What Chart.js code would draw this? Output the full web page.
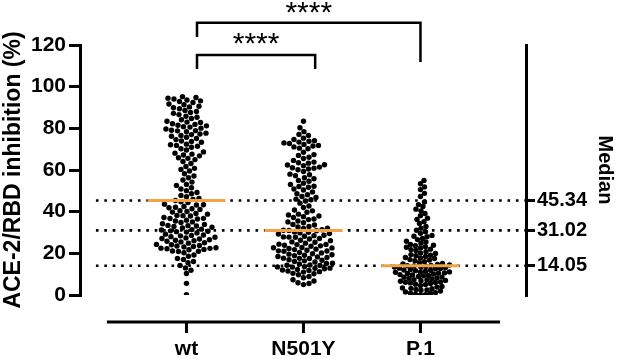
<!DOCTYPE html>
<html>
<head>
<meta charset="utf-8">
<script src="https://cdn.jsdelivr.net/npm/chart.js@4.4.1/dist/chart.umd.min.js"></script>
<style>
  html, body { margin: 0; padding: 0; background: #fff; }
  #wrap { width: 617px; height: 359px; position: relative; }
</style>
</head>
<body>
<div id="wrap"><canvas id="chart"></canvas></div>
<script>
// groups and medians
const groups = ["wt", "N501Y", "P.1"];
const medians = [45.34, 31.02, 14.05];
const yTicks = [0, 20, 40, 60, 80, 100, 120];

// values (% inhibition)
const wt = [
  95.2, 94.8, 94.5, 94.1, 93.6, 92.9, 92.4, 91.7, 91.3, 90.6, 90.3, 89.9, 93.2,
  89.4, 88.6, 88.1, 87.2, 86.6, 85.8, 85.3, 87.6,
  84.7, 84.1, 83.4, 83.0, 82.2, 81.9, 81.2, 80.8, 80.6, 80.1, 82.8, 81.5,
  79.7, 79.1, 78.8, 78.4, 77.7, 77.3, 76.6, 76.2, 75.7, 75.1, 78.9, 77.0,
  74.6, 73.7, 73.3, 72.4, 71.8, 71.4, 70.9, 70.2, 72.1, 73.9,
  69.6, 68.7, 68.1, 67.2, 66.8, 65.9, 65.6, 65.0, 67.6,
  64.1, 63.1, 61.7, 60.8, 60.3,
  59.5, 58.2, 57.1, 56.3, 55.2,
  54.2, 53.1, 52.6, 51.5, 50.9, 50.1,
  49.2, 48.6, 47.8, 47.2, 46.3, 45.9,
  45.34,
  44.8, 44.4, 43.6, 43.2, 42.5, 42.1, 41.4, 41.1, 40.5, 40.1, 43.3, 41.9,
  39.8, 39.1, 38.8, 38.2, 37.9, 37.2, 36.8, 36.5, 35.9, 35.5, 35.1, 38.1, 36.7,
  34.8, 34.2, 33.9, 33.3, 33.1, 32.5, 32.2, 31.6, 31.2, 30.8, 30.6, 30.2, 33.4, 31.4, 32.9, 30.4,
  29.8, 29.2, 28.8, 28.6, 28.0, 27.7, 27.1, 26.9, 26.3, 26.1, 25.5, 25.1, 28.4, 26.5, 27.4, 25.8,
  24.9, 24.3, 24.1, 23.5, 23.3, 22.7, 22.5, 21.9, 21.7, 21.1, 20.9, 20.3, 23.1, 22.2, 21.0, 23.8, 22.4,
  19.2, 18.6, 17.5, 17.1, 16.1, 15.5,
  14.2, 13.0, 11.9, 10.3,
  5.6, 0.2
];

const n501y = [
  83.4, 80.3,
  78.4, 77.1, 76.6, 75.3,
  74.7, 73.8, 73.4, 72.7, 72.3, 71.5, 71.1, 70.5, 70.2, 73.0, 74.1, 71.8,
  68.5, 67.4, 66.1, 65.5, 67.0,
  64.6, 63.8, 63.3, 62.5, 62.1, 61.4, 61.1, 60.5, 60.1, 62.4, 60.9, 63.5,
  59.3, 58.0, 57.3, 56.3, 55.8, 55.0, 57.7,
  54.6, 53.7, 53.1, 52.2, 51.7, 50.9, 50.4, 52.1,
  49.5, 48.6, 48.1, 47.3, 46.8, 46.0, 45.7, 45.1,
  44.1, 42.7, 42.0, 40.8, 40.4,
  39.7, 38.8, 38.4, 37.6, 37.2, 36.5, 36.2, 35.5, 35.1, 37.9,
  34.7, 33.9, 33.6, 32.9, 32.7, 32.1, 31.9, 31.3, 31.1,
  31.02,
  30.9, 30.3, 30.1, 29.5, 29.3, 28.7, 28.5, 27.9, 27.7, 27.1, 26.9, 26.3, 26.1, 25.5, 25.3, 29.8, 27.8, 28.2,
  24.9, 24.4, 24.2, 23.6, 23.4, 22.8, 22.6, 22.0, 21.8, 21.2, 21.0, 20.4, 20.2, 23.9, 22.7, 21.5, 24.3, 21.1, 22.3,
  19.8, 19.3, 19.1, 18.5, 18.3, 17.7, 17.5, 16.9, 16.7, 16.1, 15.9, 15.3, 15.1, 18.9, 17.6, 16.4, 18.0, 19.6,
  14.9, 14.4, 14.2, 13.6, 13.4, 12.8, 12.6, 12.0, 11.8, 11.2, 11.0, 10.4, 10.2, 13.5, 12.3, 14.3, 11.5, 12.9,
  9.7, 8.9, 8.3, 7.3, 6.7, 5.9, 5.5, 5.0
];

const p1 = [
  55.0, 53.4, 51.9, 50.6, 48.8, 47.3,
  44.7, 43.4, 42.5, 41.2, 40.4,
  39.1, 38.1, 36.9, 36.3, 35.2,
  34.3, 32.9, 32.1, 31.1, 30.4,
  29.6, 28.6, 28.0, 27.1, 26.6, 25.8, 25.5, 28.2,
  24.9, 24.3, 23.7, 23.2, 22.6, 22.0, 21.8, 21.4, 20.8, 20.2, 22.9, 23.9,
  19.9, 19.4, 18.9, 18.5, 18.0, 17.5, 17.0, 16.5, 16.0, 15.5, 15.1, 17.8, 16.8, 19.1,
  14.9, 14.7, 14.4, 14.2,
  14.05,
  13.9, 13.7, 13.4, 13.1, 12.9, 12.6, 12.2, 11.9, 11.7, 11.4, 11.1, 10.9, 10.6, 10.3, 10.1, 12.7, 11.0, 13.3, 12.0, 10.5,
  9.8, 9.4, 9.2, 8.9, 8.6, 8.2, 8.0, 7.7, 7.4, 7.2, 6.9, 6.6, 6.3, 6.1, 5.8, 5.5, 5.2, 8.5, 9.6, 7.0, 6.0, 5.0,
  4.6, 4.1, 3.8, 3.4, 3.0, 2.7, 2.3, 1.9, 1.5, 1.1, 0.7, 0.4, 0.2, 0.0, 2.4, 3.2, 0.9
];

const series = [wt, n501y, p1];

// significance brackets, in axis units
const brackets = [
  { from: 0.09, to: 2.0, top: 130.7, legFrom: 123.8, legTo: 111.8, label: "****", labelY: 131.1 },
  { from: 0.09, to: 1.1, top: 115.2, legFrom: 108.5, legTo: 108.5, label: "****", labelY: 116.1 }
];

const FONT = "'Liberation Sans', Arial, Helvetica, sans-serif";
const ORANGE = "#f3a347";

const datasets = [];
series.forEach((vals, i) => {
  datasets.push({
    type: "scatter",
    label: groups[i],
    data: vals.map((v) => ({ x: i, y: v })),
    backgroundColor: "#000",
    borderWidth: 0,
    pointRadius: 2.7,
    order: 2
  });
});
medians.forEach((m) => {
  datasets.push({
    type: "line",
    data: [{ x: -0.774, y: m }, { x: 2.902, y: m }],
    borderColor: "#000",
    borderWidth: 2.6,
    borderDash: [2.6, 5.8],
    pointRadius: 0,
    order: 3
  });
});
medians.forEach((m, i) => {
  datasets.push({
    type: "line",
    data: [{ x: i - 0.333, y: m }, { x: i + 0.333, y: m }],
    borderColor: ORANGE,
    borderWidth: 3,
    pointRadius: 0,
    order: 1
  });
});

// x axis line below the plot, plus brackets
const extras = {
  id: "extras",
  afterDraw(chart) {
    const { ctx, scales: { x, y }, chartArea } = chart;
    ctx.save();
    ctx.strokeStyle = "#000";
    ctx.lineWidth = 3;
    ctx.lineCap = "butt";
    const ay = chartArea.bottom + 27;
    ctx.beginPath();
    ctx.moveTo(x.getPixelForValue(-0.68), ay);
    ctx.lineTo(x.getPixelForValue(2.68), ay);
    groups.forEach((g, i) => {
      const px = x.getPixelForValue(i);
      ctx.moveTo(px, ay);
      ctx.lineTo(px, ay + 11);
    });
    ctx.stroke();

    ctx.lineWidth = 2.5;
    ctx.fillStyle = "#000";
    ctx.font = "30px " + FONT;
    ctx.textAlign = "center";
    ctx.textBaseline = "alphabetic";
    brackets.forEach((b) => {
      const x1 = x.getPixelForValue(b.from), x2 = x.getPixelForValue(b.to);
      const yt = y.getPixelForValue(b.top);
      ctx.beginPath();
      ctx.moveTo(x1, y.getPixelForValue(b.legFrom));
      ctx.lineTo(x1, yt);
      ctx.lineTo(x2, yt);
      ctx.lineTo(x2, y.getPixelForValue(b.legTo));
      ctx.stroke();
      ctx.fillText(b.label, (x1 + x2) / 2, y.getPixelForValue(b.labelY));
    });
    ctx.restore();
  }
};

const chart = new Chart(document.getElementById("chart"), {
  data: { datasets },
  options: {
    responsive: true,
    maintainAspectRatio: false,
    animation: false,
    layout: { padding: { top: 45, left: 0, right: 0, bottom: 0 } },
    plugins: { legend: { display: false }, tooltip: { enabled: false } },
    scales: {
      x: {
        type: "linear",
        min: -0.91,
        max: 2.902,
        afterBuildTicks: (s) => { s.ticks = groups.map((g, i) => ({ value: i })); },
        afterFit: (s) => { s.height = 64; },
        ticks: {
          autoSkip: false,
          color: "#000",
          padding: 42,
          font: { family: FONT, size: 21, weight: "bold" },
          callback: (v) => groups[v]
        },
        grid: { display: false, drawTicks: false },
        border: { display: false }
      },
      y: {
        type: "linear",
        position: "left",
        min: 0,
        max: 120,
        afterBuildTicks: (s) => { s.ticks = yTicks.map((v) => ({ value: v })); },
        afterFit: (s) => { s.width = 80; },
        ticks: { color: "#000", padding: 3, font: { family: FONT, size: 21, weight: "bold" } },
        grid: { drawOnChartArea: false, drawTicks: true, tickLength: 11, color: "#000", lineWidth: 3 },
        border: { color: "#000", width: 3 },
        title: {
          display: true,
          text: "ACE-2/RBD inhibition (%)",
          color: "#000",
          padding: { top: 0, bottom: 0 },
          font: { family: FONT, size: 23, weight: "bold" }
        }
      },
      y2: {
        type: "linear",
        position: "right",
        min: 0,
        max: 120,
        afterBuildTicks: (s) => { s.ticks = medians.map((v) => ({ value: v })); },
        afterFit: (s) => { s.width = 91; },
        ticks: {
          autoSkip: false,
          color: "#000",
          padding: 2,
          font: { family: FONT, size: 20, weight: "bold" },
          callback: (v) => Number(v).toFixed(2)
        },
        grid: { drawOnChartArea: false, drawTicks: true, tickLength: 9, color: "#000", lineWidth: 3 },
        border: { color: "#000", width: 3 },
        title: {
          display: true,
          text: "Median",
          color: "#000",
          padding: { top: 0, bottom: 0 },
          font: { family: FONT, size: 20, weight: "bold" }
        }
      }
    }
  },
  plugins: [extras]
});

// spread the dots sideways like a swarm plot, using the chart's own scales
function swarmOffsets(values, toPx, diam) {
  const idx = values.map((v, i) => i).sort((a, b) => values[a] - values[b]);
  const placed = [];
  const off = new Array(values.length).fill(0);
  idx.forEach((i) => {
    const py = toPx(values[i]);
    const near = placed.filter((p) => Math.abs(p.y - py) < diam);
    let dx = 0;
    for (let k = 0; k < 400; k++) {
      const c = (k % 2 ? 1 : -1) * Math.ceil(k / 2) * 0.5;
      if (near.every((p) => (p.x - c) ** 2 + (p.y - py) ** 2 >= diam * diam)) { dx = c; break; }
    }
    off[i] = dx;
    placed.push({ x: dx, y: py });
  });
  return off;
}

const xs = chart.scales.x, ys = chart.scales.y;
const pxPerUnit = xs.getPixelForValue(1) - xs.getPixelForValue(0);
const gaps = [5.6, 5.5, 4.8];
series.forEach((vals, i) => {
  const off = swarmOffsets(vals, (v) => ys.getPixelForValue(v), gaps[i]);
  chart.data.datasets[i].data = vals.map((v, j) => ({ x: i + off[j] / pxPerUnit, y: v }));
});
chart.update("none");
</script>
</body>
</html>
